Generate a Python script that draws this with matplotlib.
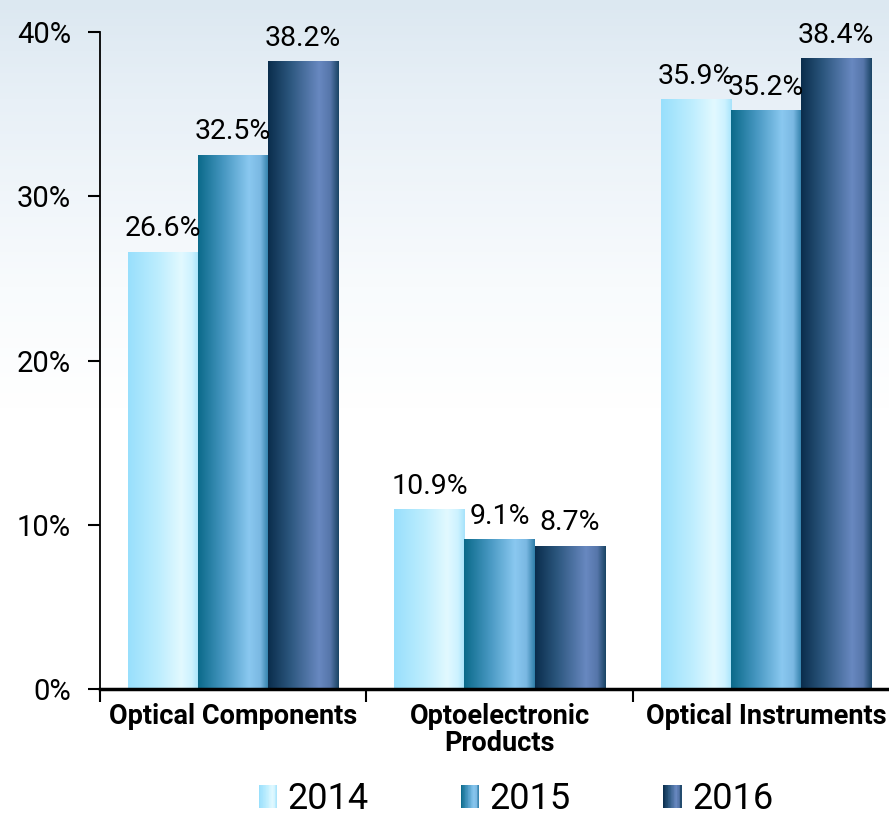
import matplotlib
matplotlib.use("Agg")
import matplotlib.pyplot as plt
import numpy as np
from matplotlib.colors import LinearSegmentedColormap
from matplotlib.patches import Rectangle
from matplotlib.legend_handler import HandlerBase

# data
categories = ["Optical Components", "Optoelectronic\nProducts", "Optical Instruments"]
years = ["2014", "2015", "2016"]
share_2014 = [26.6, 10.9, 35.9]
share_2015 = [32.5, 9.1, 35.2]
share_2016 = [38.2, 8.7, 38.4]
yticks = [0, 10, 20, 30, 40]

series = [share_2014, share_2015, share_2016]

# horizontal gradients for each year's bars
cmaps = [
    LinearSegmentedColormap.from_list("g14", [(0, "#98dffc"), (0.45, "#bfeefe"), (0.75, "#e2f9ff"),
                                              (0.9, "#cdf2ff"), (1, "#a6e3fb")]),
    LinearSegmentedColormap.from_list("g15", [(0, "#0b6a8a"), (0.35, "#4596c0"), (0.72, "#8ac8f0"),
                                              (0.88, "#7ab8e2"), (1, "#2f7ea8")]),
    LinearSegmentedColormap.from_list("g16", [(0, "#0a2d4c"), (0.3, "#2a557c"), (0.72, "#6888c0"),
                                              (0.88, "#5676aa"), (1, "#1a4464")]),
]

plt.rcParams['font.family'] = ['Roboto', 'DejaVu Sans']

fig = plt.figure(figsize=(8.89, 8.17), dpi=100)

# sky-ish background
bg = fig.add_axes([0, 0, 1, 1], zorder=-10)
grad = np.linspace(0, 1, 256).reshape(-1, 1)
sky = LinearSegmentedColormap.from_list("sky", [(0, "#dce8f1"), (0.12, "#e8f0f7"),
                                                (0.35, "#f8fbfd"), (0.5, "#ffffff"), (1, "#ffffff")])
bg.imshow(grad, cmap=sky, aspect="auto", extent=[0, 1, 0, 1], origin="upper")
bg.axis("off")

ax = fig.add_axes([100 / 889, 128 / 817, 799 / 889, 657 / 817])
ax.patch.set_alpha(0)

x = np.arange(len(categories))
width = 0.263

for i, (vals, cm) in enumerate(zip(series, cmaps)):
    bars = ax.bar(x + (i - 1) * width, vals, width, color="none", edgecolor="none", label=years[i])
    for b, v in zip(bars, vals):
        x0 = b.get_x()
        ax.imshow(grad.T, cmap=cm, aspect="auto",
                  extent=[x0, x0 + b.get_width(), 0, b.get_height()], zorder=2)
        ax.annotate(f"{v}%", (x0 + b.get_width() / 2, v), xytext=(0, 7),
                    textcoords="offset points", ha="center", va="bottom",
                    fontsize=20.5, annotation_clip=False, zorder=3)

ax.set_xlim(-0.5, 2.5)
ax.set_ylim(0, 40)

# boundary ticks (major) and category labels (minor)
ax.set_xticks([-0.5, 0.5, 1.5, 2.5])
ax.set_xticklabels([])
ax.set_xticks(x, minor=True)
ax.set_xticklabels(categories, minor=True, fontsize=19.5, fontweight="bold", linespacing=1.0)
ax.tick_params(axis="x", which="major", direction="out", length=9, width=1.5)
ax.tick_params(axis="x", which="minor", length=0, pad=10)

ax.set_yticks(yticks)
ax.set_yticklabels([f"{t}%" for t in yticks], fontsize=21)
ax.tick_params(axis="y", direction="out", length=9, width=1.5, pad=12)

for s in ["top", "right"]:
    ax.spines[s].set_visible(False)
ax.spines["left"].set_linewidth(1.3)
ax.spines["bottom"].set_linewidth(2.5)


class GradHandler(HandlerBase):
    def __init__(self, cmap):
        super().__init__()
        self.cmap = cmap

    def create_artists(self, legend, orig_handle, xdescent, ydescent, width, height, fontsize, trans):
        n = 24
        arts = []
        for k in range(n):
            r = Rectangle((-xdescent + width * k / n, -ydescent), width / n + 0.3, height,
                          facecolor=self.cmap((k + 0.5) / n), edgecolor="none", transform=trans)
            arts.append(r)
        return arts


handles = [Rectangle((0, 0), 1, 1) for _ in years]
hmap = {h: GradHandler(cm) for h, cm in zip(handles, cmaps)}
fig.legend(handles, years, handler_map=hmap, loc="center", bbox_to_anchor=(516 / 889, 1 - 799 / 817),
           ncol=3, frameon=False, fontsize=26, handlelength=0.5, handleheight=0.6,
           handletextpad=0.3, columnspacing=2.55, borderpad=0.1)

fig.savefig("out.png", dpi=100)
